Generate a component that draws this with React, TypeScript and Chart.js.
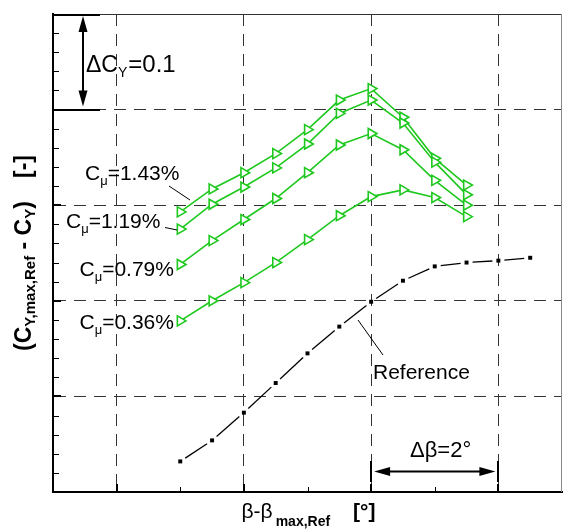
import React, { useEffect, useRef } from 'react';
import { Chart, registerables } from 'chart.js';

Chart.register(...registerables);

// ---- data ----
const betaGreen = [-3, -2.5, -2, -1.5, -1, -0.5, 0, 0.5, 1, 1.5];
const betaRef = [-3, -2.5, -2, -1.5, -1, -0.5, 0, 0.5, 1, 1.5, 2, 2.5];
const cmu143 = [0.293, 0.317, 0.334, 0.354, 0.379, 0.410, 0.422, 0.392, 0.349, 0.321];
const cmu119 = [0.275, 0.301, 0.319, 0.339, 0.364, 0.396, 0.410, 0.386, 0.345, 0.311];
const cmu079 = [0.238, 0.263, 0.285, 0.307, 0.334, 0.363, 0.375, 0.358, 0.326, 0.300];
const cmu036 = [0.179, 0.200, 0.219, 0.240, 0.264, 0.289, 0.309, 0.316, 0.308, 0.288];
const reference = [0.032, 0.054, 0.083, 0.114, 0.145, 0.173, 0.199, 0.221, 0.236, 0.240, 0.242, 0.245];

const xMajorTicks = [-4, -2, 0, 2];
const xMinorTicks = [-3, -1, 1];
const yMajorTicks = [0.1, 0.2, 0.3, 0.4];
const yMinorTicks = [0.02, 0.04, 0.06, 0.08, 0.12, 0.14, 0.16, 0.18, 0.22, 0.24, 0.26, 0.28, 0.32, 0.34, 0.36, 0.38, 0.42, 0.44, 0.46, 0.48];

const GREEN = '#1ec81e';
const FONT = '"Liberation Sans", Arial, Helvetica, sans-serif';

type Run = { t: string; size: number; bold?: boolean; dy?: number; gap?: number };

function drawRuns(ctx: CanvasRenderingContext2D, x: number, y: number, runs: Run[]) {
  let cx = x;
  for (const r of runs) {
    cx += r.gap || 0;
    ctx.font = `${r.bold ? 'bold ' : ''}${r.size}px ${FONT}`;
    ctx.fillText(r.t, cx, y + (r.dy || 0));
    cx += ctx.measureText(r.t).width;
  }
  return cx;
}

function line(ctx: CanvasRenderingContext2D, x1: number, y1: number, x2: number, y2: number) {
  ctx.beginPath();
  ctx.moveTo(x1, y1);
  ctx.lineTo(x2, y2);
  ctx.stroke();
}

function head(ctx: CanvasRenderingContext2D, tx: number, ty: number, dx: number, dy: number, len: number, half: number) {
  const bx = tx - dx * len;
  const by = ty - dy * len;
  const px = -dy, py = dx;
  ctx.beginPath();
  ctx.moveTo(tx, ty);
  ctx.lineTo(bx + px * half, by + py * half);
  ctx.lineTo(bx - px * half, by - py * half);
  ctx.closePath();
  ctx.fill();
}

const decorPlugin = {
  id: 'decor',
  beforeDatasetsDraw(chart: any) {
    const { ctx, chartArea: a, scales } = chart;
    const xs = scales.x, ys = scales.y;
    ctx.save();
    ctx.lineWidth = 1;
    ctx.strokeStyle = '#333';
    line(ctx, a.left, a.top + 0.5, a.right, a.top + 0.5);
    ctx.strokeStyle = '#888';
    line(ctx, a.right - 0.5, a.top, a.right - 0.5, a.bottom);
    ctx.strokeStyle = '#000';
    ctx.lineWidth = 1;
    for (const v of yMinorTicks) {
      const py = Math.round(ys.getPixelForValue(v)) + 0.5;
      line(ctx, a.left, py, a.left + 6, py);
    }
    ctx.lineWidth = 2;
    for (const v of yMajorTicks) {
      const py = Math.round(ys.getPixelForValue(v));
      line(ctx, a.left, py, a.left + 8, py);
    }
    ctx.lineWidth = 1;
    for (const v of xMinorTicks) {
      const px = Math.round(xs.getPixelForValue(v)) + 0.5;
      line(ctx, px, a.bottom, px, a.bottom - 5);
    }
    ctx.lineWidth = 2;
    for (const v of xMajorTicks) {
      const px = Math.round(xs.getPixelForValue(v));
      line(ctx, px, a.bottom, px, a.bottom - 8);
    }
    ctx.restore();
  },
  afterDatasetsDraw(chart: any) {
    const { ctx, chartArea: a, scales } = chart;
    const xs = scales.x, ys = scales.y;
    ctx.save();
    ctx.fillStyle = '#000';
    ctx.strokeStyle = '#000';
    ctx.textBaseline = 'alphabetic';
    ctx.textAlign = 'left';

    // ΔC_Y = 0.1 marker
    const yTop = ys.getPixelForValue(0.5);
    const y01 = ys.getPixelForValue(0.4);
    ctx.lineWidth = 2;
    line(ctx, a.left, Math.round(yTop) + 1, 100, Math.round(yTop) + 1);
    line(ctx, a.left, Math.round(y01), 100, Math.round(y01));
    const ax = 83;
    line(ctx, ax, yTop + 14, ax, y01 - 14);
    head(ctx, ax, yTop + 2, 0, -1, 16, 4.5);
    head(ctx, ax, y01 - 3, 0, 1, 16, 4.5);
    drawRuns(ctx, 86, 71.5, [
      { t: 'ΔC', size: 23 },
      { t: 'Y', size: 14, dy: 5 },
      { t: '=0.1', size: 24, gap: 1 },
    ]);

    // C_mu labels
    const cm = (x: number, y: number, val: string) =>
      drawRuns(ctx, x, y, [
        { t: 'C', size: 21 },
        { t: 'μ', size: 13, dy: 5 },
        { t: '=' + val, size: 21 },
      ]);
    cm(85, 179.5, '1.43%');
    cm(66, 228, '1.19%');
    cm(79.5, 275.5, '0.79%');
    cm(79.5, 328.5, '0.36%');
    ctx.lineWidth = 1;
    line(ctx, 169, 186, 190, 200);
    line(ctx, 165, 227.5, 177, 230);

    // Reference label
    drawRuns(ctx, 373, 378.5, [{ t: 'Reference', size: 21 }]);
    line(ctx, 358, 320, 383, 355);

    // Δβ = 2°
    const bx0 = xs.getPixelForValue(0);
    const bx2 = xs.getPixelForValue(2);
    const ay = 471.5;
    ctx.lineWidth = 2;
    line(ctx, Math.round(bx0), 461, Math.round(bx0), 482);
    line(ctx, Math.round(bx2), 461, Math.round(bx2), 482);
    line(ctx, bx0 + 14, ay, bx2 - 14, ay);
    head(ctx, bx0 + 3, ay, -1, 0, 16, 4.5);
    head(ctx, bx2 - 3, ay, 1, 0, 16, 4.5);
    drawRuns(ctx, 410, 457, [{ t: 'Δβ=2°', size: 22 }]);

    // x title
    const e1 = drawRuns(ctx, 241.5, 518, [{ t: 'β-β', size: 21 }]);
    drawRuns(ctx, e1 + 3, 526, [{ t: 'max,Ref', size: 14, bold: true }]);
    drawRuns(ctx, 353, 518, [{ t: '[°]', size: 21, bold: true }]);

    // y title (rotated)
    ctx.save();
    ctx.translate(31, 351);
    ctx.rotate(-Math.PI / 2);
    drawRuns(ctx, 0, 0, [
      { t: '(C', size: 23, bold: true },
      { t: 'Y,max,Ref', size: 15, bold: true, dy: 4 },
      { t: ' - C', size: 23, bold: true },
      { t: 'Y', size: 15, bold: true, dy: 4 },
      { t: ')', size: 23, bold: true },
    ]);
    drawRuns(ctx, 351 - 178, 0, [{ t: '[-]', size: 23, bold: true }]);
    ctx.restore();

    ctx.restore();
  },
};

function greenSet(label: string, ys: number[]) {
  return {
    label,
    data: betaGreen.map((x, i) => ({ x, y: ys[i] })),
    showLine: true,
    borderColor: GREEN,
    borderWidth: 1.6,
    pointStyle: 'triangle',
    pointRotation: 90,
    pointRadius: 5.8,
    pointBorderWidth: 1.6,
    pointBorderColor: GREEN,
    pointBackgroundColor: '#ffffff',
    fill: false,
  };
}

export default function App() {
  const ref = useRef<HTMLCanvasElement | null>(null);
  useEffect(() => {
    if (!ref.current) return;
    const chart = new Chart(ref.current, {
      type: 'scatter',
      data: {
        datasets: [
          {
            label: 'Reference',
            data: betaRef.map((x, i) => ({ x, y: reference[i] })),
            showLine: true,
            borderColor: '#000',
            borderWidth: 1.3,
            pointStyle: 'rect',
            pointRadius: 2.8,
            pointBorderWidth: 0,
            pointBackgroundColor: '#000',
            segment: {
              borderDash: (c: any) => {
                const L = Math.hypot(c.p1.x - c.p0.x, c.p1.y - c.p0.y);
                const g = 6;
                return [0, g, Math.max(L - 2 * g, 0.1), 1000];
              },
            },
          } as any,
          greenSet('Cμ=0.36%', cmu036),
          greenSet('Cμ=0.79%', cmu079),
          greenSet('Cμ=1.19%', cmu119),
          greenSet('Cμ=1.43%', cmu143),
        ],
      },
      options: {
        responsive: false,
        animation: false,
        devicePixelRatio: 1,
        layout: { autoPadding: false, padding: { left: 53, top: 14, right: 1, bottom: 37 } },
        plugins: { legend: { display: false }, tooltip: { enabled: false } },
        scales: {
          x: {
            type: 'linear',
            min: -5,
            max: 3,
            afterBuildTicks: (s: any) => { s.ticks = xMajorTicks.map((v) => ({ value: v })); },
            ticks: { display: false },
            grid: { color: '#333', lineWidth: 1, drawTicks: false },
            border: { display: true, color: '#000', width: 2, dash: [12, 8] },
          },
          y: {
            type: 'linear',
            min: 0,
            max: 0.5,
            afterBuildTicks: (s: any) => { s.ticks = yMajorTicks.map((v) => ({ value: v })); },
            ticks: { display: false },
            grid: { color: '#333', lineWidth: 1, drawTicks: false },
            border: { display: true, color: '#000', width: 2, dash: [12, 8] },
          },
        },
      } as any,
      plugins: [decorPlugin],
    });
    return () => chart.destroy();
  }, []);
  return (
    <div style={{ position: 'absolute', left: 0, top: 0, width: 563, height: 529, background: '#fff' }}>
      <canvas ref={ref} width={563} height={529} style={{ display: 'block' }} />
    </div>
  );
}
